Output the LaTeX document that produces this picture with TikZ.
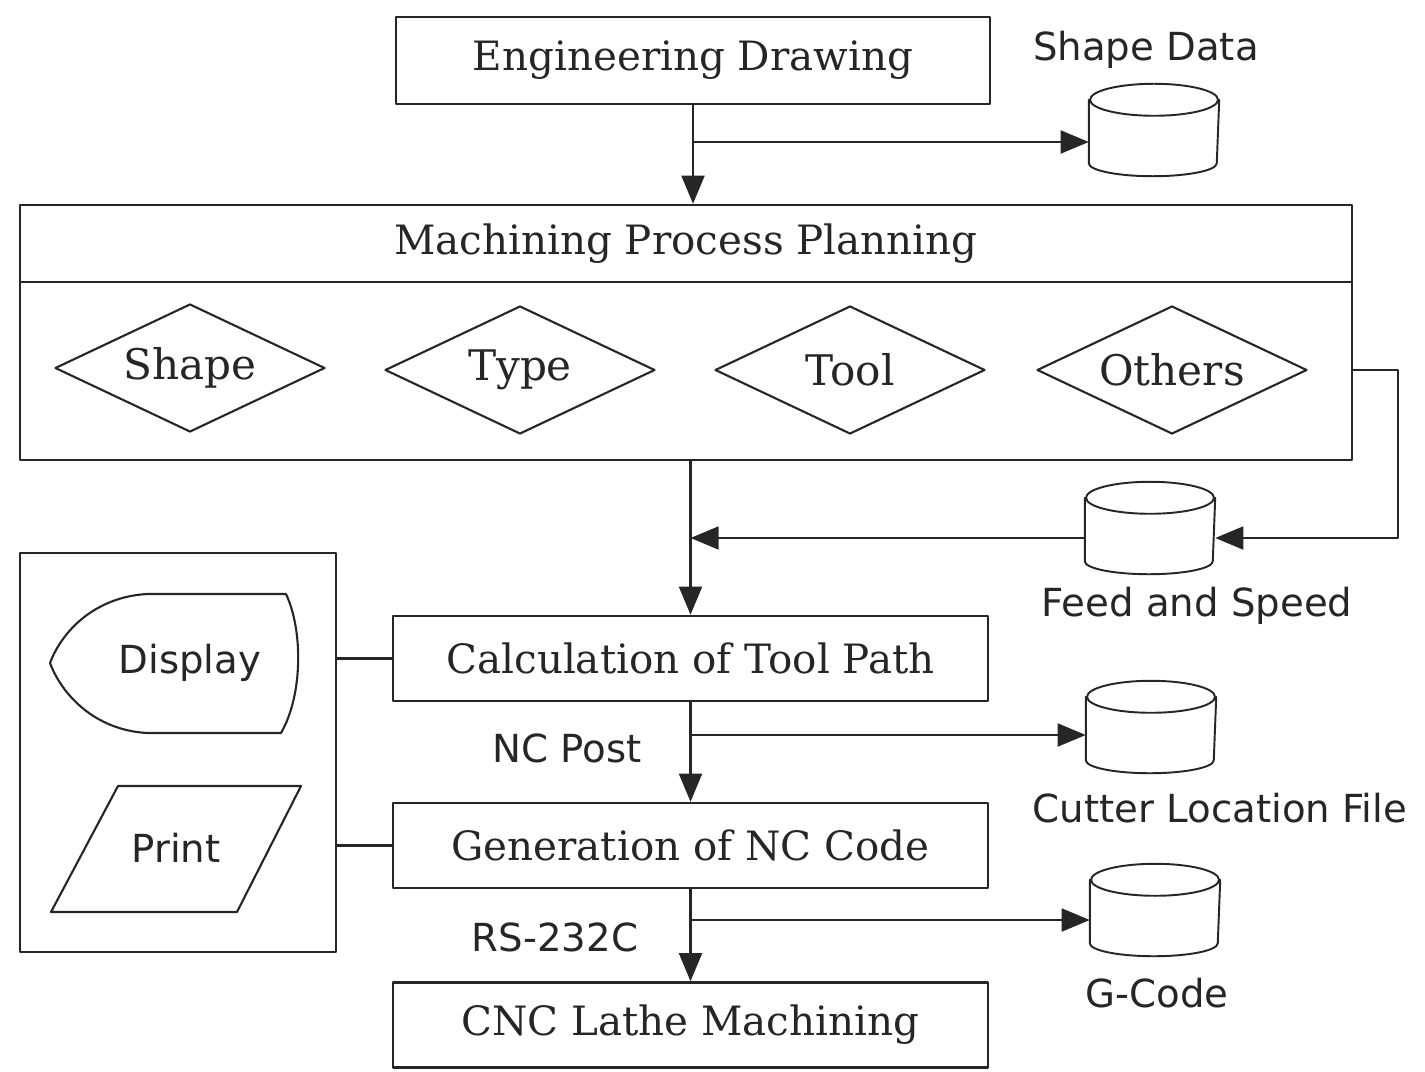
\documentclass[tikz,border=0pt]{standalone}
\usepackage{fontspec}
\setmainfont{DejaVu Serif}
\newfontfamily\lblfont{DejaVu Sans}
\usepackage{tikz}
\usetikzlibrary{arrows.meta,shapes.geometric}
\newcommand{\drum}[1]{%
  \draw[line width=1.1pt] ([yshift=-0.32cm]#1.north) ellipse [x radius=1.28cm,y radius=0.32cm];
  \draw[line width=1.1pt] ([yshift=-0.32cm]#1.north west) -- ([yshift=0.26cm]#1.south west)
    arc [start angle=180,end angle=360,x radius=1.28cm,y radius=0.26cm] -- ([yshift=-0.32cm]#1.north east);}

\begin{document}
\begin{tikzpicture}[line cap=round,line join=round,>={Triangle[length=16pt,width=13pt]},x=0.02cm,y=-0.02cm,
  line width=1.4pt,color=black!85,
  procbox/.style={draw,rectangle,minimum width=11.9cm,minimum height=1.7cm,inner sep=0pt,font=\fontsize{23}{27}\selectfont},
  choice/.style={draw,diamond,aspect=2.1,minimum width=5.4cm,minimum height=2.56cm,inner sep=0pt,line width=1.2pt,font=\fontsize{24}{28}\selectfont},
  store/.style={rectangle,minimum width=2.56cm,minimum height=1.8cm,inner sep=0pt},
  lbl/.style={font=\lblfont\fontsize{22}{26}\selectfont}]
\useasboundingbox (0,0) rectangle (1425,1071);
\node[procbox,minimum width=11.88cm,minimum height=1.74cm] (eng) at (693,60.5) {Engineering Drawing};
\node[draw,rectangle,minimum width=26.64cm,minimum height=1.54cm,inner sep=0pt,font=\fontsize{23}{27}\selectfont] (mpptitle) at (686,243.5) {Machining Process Planning};
\node[draw,rectangle,minimum width=26.64cm,minimum height=3.56cm,inner sep=0pt] (mppbody) at (686,371) {};
\node[choice] (shape) at (190,368) {Shape};
\node[choice] (type) at (520,370) {Type};
\node[choice] (tool) at (850,370) {Tool};
\node[choice] (others) at (1172,370) {Others};
\node[procbox] (calc) at (690.5,658.5) {Calculation of Tool Path};
\node[procbox] (gen) at (690.5,845.5) {Generation of NC Code};
\node[procbox] (cnc) at (690.5,1025) {CNC Lathe Machining};
\node[store] (sdata) at (1154,130) {};
\node[store] (feed) at (1150,528) {};
\node[store] (cutter) at (1151,727) {};
\node[store] (gcode) at (1155,910) {};
\drum{sdata}
\drum{feed}
\drum{cutter}
\drum{gcode}
\node[lbl] (sdatalbl) at (1146,50) {Shape Data};
\node[lbl] (feedlbl) at (1197,606) {Feed and Speed};
\node[lbl] (cutterlbl) at (1220,808) {Cutter Location File};
\node[lbl] (gcodelbl) at (1157,993) {G-Code};
\node[lbl] (ncpost) at (567,748) {NC Post};
\node[lbl] (rs) at (555,937) {RS-232C};
\node[draw,rectangle,minimum width=6.32cm,minimum height=7.98cm,inner sep=0pt,line width=1.1pt] (outbox) at (178,752.5) {};
\node[lbl] (disp) at (190,663) {Display};
\node[lbl] (prnt) at (176,848) {Print};
\draw[line width=1.2pt] (147,594) -- (286,594) .. controls (303,630) and (303,695) .. (281,733) -- (147,733) .. controls (95,730) and (62,695) .. (50,663) .. controls (62,631) and (95,597) .. (147,594) -- cycle;
\draw[line width=1.2pt] (118,786) -- (301,786) -- (237,912) -- (51,912) -- cycle;
\coordinate (b1) at (693,142);
\coordinate (b2) at (690.5,538);
\coordinate (b3) at (690.5,735);
\coordinate (b4) at (690.5,920);
\draw[->] (eng.south) -- (eng.south |- mpptitle.north);
\draw[->] (b1) -- (b1 -| sdata.west);
\draw[->] (calc.north |- mppbody.south) -- (calc.north);
\draw[->] (b2 -| feed.west) -- (b2);
\draw[->] (mppbody.east |- others) -- ++(45,0) |- (b2 -| feed.east);
\draw[->] (calc.south) -- (gen.north);
\draw[->] (b3) -- (b3 -| cutter.west);
\draw[->] (gen.south) -- (cnc.north);
\draw[->] (b4) -- (b4 -| gcode.west);
\draw (outbox.east |- calc) -- (calc.west);
\draw (outbox.east |- gen) -- (gen.west);
\end{tikzpicture}
\end{document}
